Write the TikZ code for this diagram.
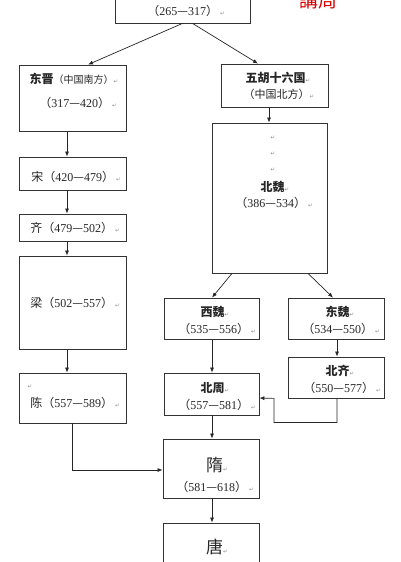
\documentclass[tikz,border=0pt]{standalone}
\usepackage{fontspec}
\setmainfont{Liberation Serif}
\newfontfamily\cjk{Noto Sans CJK SC}
\newfontfamily\djv{DejaVu Sans}
\usetikzlibrary{arrows.meta}
\newcommand{\pmark}{{\djv\fontsize{5.5}{5.5}\selectfont\color{black!45}↵}}
\newcommand{\dates}[2]{{\cjk （}#1{\cjk —}#2{\cjk ）}}
\tikzset{
  box/.style={draw=black!80, line width=0.8pt, rectangle, inner sep=0pt, fill=white},
  arr/.style={draw=black!85, line width=0.7pt, -{Latex[length=5pt,width=4pt]}},
  lbl/.style={inner sep=0pt, font=\fontsize{12}{13}\selectfont, text=black!85},
}
\begin{document}
\begin{tikzpicture}[x=1pt,y=-1pt]
\clip (0,0) rectangle (400,562);
\fill[white] (0,0) rectangle (400,562);
% boxes
\node[box, minimum width=135pt, minimum height=43pt] (top) at (182.5,1.5) {};
\node[box, minimum width=107pt, minimum height=66pt] (dj) at (72.5,98) {};
\node[box, minimum width=107pt, minimum height=33pt] (song) at (72.5,173.5) {};
\node[box, minimum width=107pt, minimum height=27pt] (qi) at (72.5,227.5) {};
\node[box, minimum width=107pt, minimum height=93pt] (liang) at (72.5,302.5) {};
\node[box, minimum width=107pt, minimum height=50pt] (chen) at (72.5,398) {};
\node[box, minimum width=107pt, minimum height=43pt] (wh) at (274.5,85.5) {};
\node[box, minimum width=115pt, minimum height=150pt] (bw) at (269.5,198) {};
\node[box, minimum width=95pt, minimum height=41pt] (xw) at (211.5,318.5) {};
\node[box, minimum width=96pt, minimum height=41pt] (dw) at (336,318.5) {};
\node[box, minimum width=96pt, minimum height=41pt] (bq) at (336,377.5) {};
\node[box, minimum width=95pt, minimum height=42pt] (bz) at (211.5,394) {};
\node[box, minimum width=96pt, minimum height=59pt] (sui) at (211,468.5) {};
\node[box, minimum width=96pt, minimum height=57pt] (tang) at (211,551.5) {};
% red mark
\node[inner sep=0pt, text=red!85!black, font=\cjk\fontsize{19}{19}\selectfont] (mark) at (318,0) {講周};
% texts
\node[lbl] (t0) at (186,11) {\dates{265}{317}\,\pmark};
\node[lbl] (t1) at (74,79) {{\cjk\bfseries 东晋}{\cjk\fontsize{10}{11}\selectfont （中国南方）}\pmark};
\node[lbl] (t2) at (78,103) {\dates{317}{420}\,\pmark};
\node[lbl] (t3) at (76,177) {{\cjk 宋}\dates{420}{479}\,\pmark};
\node[lbl] (t4) at (75,228) {{\cjk 齐}\dates{479}{502}\,\pmark};
\node[lbl] (t5) at (75,303) {{\cjk 梁}\dates{502}{557}\,\pmark};
\node[lbl] (t6a) at (30,387) {\pmark};
\node[lbl] (t6) at (75,403) {{\cjk 陈}\dates{557}{589}\,\pmark};
\node[lbl] (t7) at (278,78) {{\cjk\bfseries 五胡十六国}\pmark};
\node[lbl] (t8) at (279,94) {{\cjk\fontsize{11}{12}\selectfont （中国北方）}\pmark};
\node[lbl] (t9a) at (273,138) {\pmark};
\node[lbl] (t9b) at (273,154) {\pmark};
\node[lbl] (t9c) at (273,170) {\pmark};
\node[lbl] (t9) at (275,187) {{\cjk\bfseries 北魏}\pmark};
\node[lbl] (t10) at (274,203) {\dates{386}{534}\,\pmark};
\node[lbl] (t11) at (215,312) {{\cjk\bfseries 西魏}\pmark};
\node[lbl] (t12) at (217,329) {\dates{535}{556}\,\pmark};
\node[lbl] (t13) at (340,312) {{\cjk\bfseries 东魏}\pmark};
\node[lbl] (t14) at (341,329) {\dates{534}{550}\,\pmark};
\node[lbl] (t15) at (340,371) {{\cjk\bfseries 北齐}\pmark};
\node[lbl] (t16) at (342,388) {\dates{550}{577}\,\pmark};
\node[lbl] (t17) at (215,388) {{\cjk\bfseries 北周}\pmark};
\node[lbl] (t18) at (217,405) {\dates{557}{581}\,\pmark};
\node[lbl, font=\fontsize{17}{19}\selectfont] (t19) at (217,465) {{\cjk 隋}\pmark};
\node[lbl] (t20) at (215,487) {\dates{581}{618}\,\pmark};
\node[lbl, font=\fontsize{17}{19}\selectfont] (t21) at (217,547) {{\cjk 唐}\pmark};
% connectors
\draw[arr] (top.south) -- ([xshift=15.5pt]dj.north);
\draw[arr] ([xshift=10pt]top.south) -- ([xshift=-16.5pt]wh.north);
\draw[arr] ([xshift=-5.5pt]dj.south) -- ([xshift=-5.5pt]song.north);
\draw[arr] ([xshift=-5.5pt]song.south) -- ([xshift=-5.5pt]qi.north);
\draw[arr] ([xshift=-5.5pt]qi.south) -- ([xshift=-5.5pt]liang.north);
\draw[arr] ([xshift=-5.5pt]liang.south) -- ([xshift=-5.5pt]chen.north);
\draw[arr] ([xshift=-5.5pt]wh.south) -- ([xshift=-0.5pt]bw.north);
\draw[arr] ([xshift=-37.5pt]bw.south) -- ([xshift=0.5pt]xw.north);
\draw[arr] ([xshift=38.5pt]bw.south) -- ([xshift=-3pt]dw.north);
\draw[arr] ([xshift=1pt]dw.south) -- ([xshift=1pt]bq.north);
\draw[arr] ([xshift=0.5pt]xw.south) -- ([xshift=0.5pt]bz.north);
\draw[arr] ([xshift=1pt]bq.south) -- ++(0,24) -- ++(-63,0) -- ++(0,-24) -- ([yshift=-4pt]bz.east);
\draw[arr] ([xshift=0.5pt]bz.south) -- ([xshift=1pt]sui.north);
\draw[arr] ([xshift=-0.5pt]chen.south) |- ([yshift=-1.5pt]sui.west);
\draw[arr] ([xshift=1pt]sui.south) -- ([xshift=1pt]tang.north);
\end{tikzpicture}
\end{document}
